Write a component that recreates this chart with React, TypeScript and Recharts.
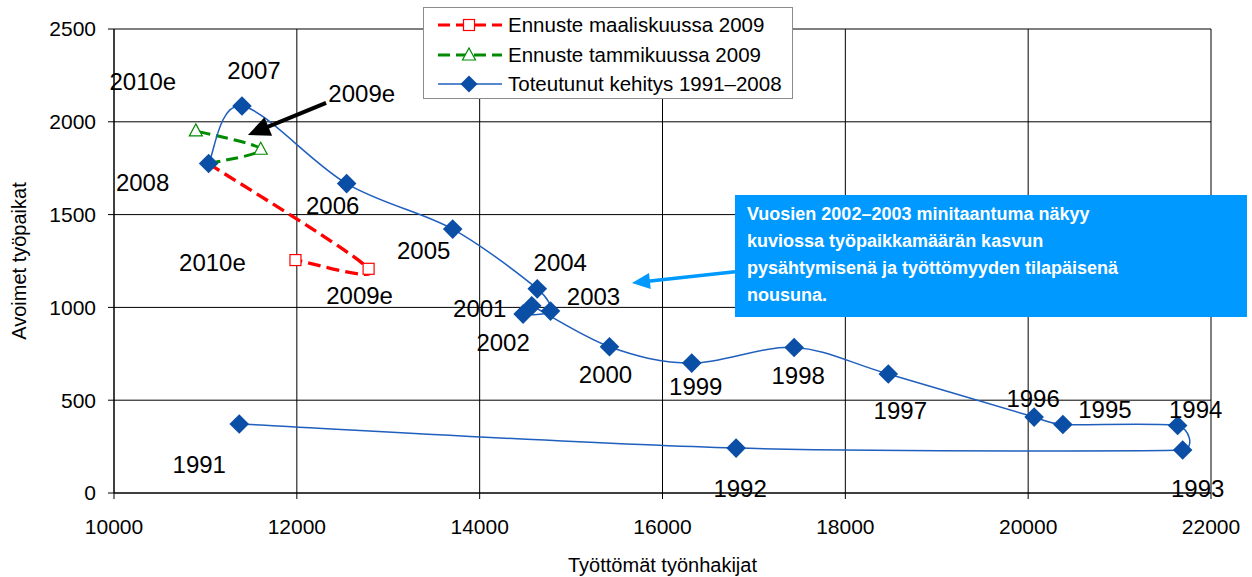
import React from "react";
import {
  LineChart,
  Line,
  XAxis,
  YAxis,
  CartesianGrid,
  ReferenceLine,
  LabelList,
} from "recharts";

const FONT = '"Liberation Sans", Arial, Helvetica, sans-serif';

// Toteutunut kehitys 1991–2008
const years = [
  "1991", "1992", "1993", "1994", "1995", "1996", "1997", "1998", "1999",
  "2000", "2001", "2002", "2003", "2004", "2005", "2006", "2007", "2008",
];
const unemployed = [
  11370, 16805, 21690, 21635, 20380, 20065, 18470, 17440, 16320,
  15420, 14570, 14475, 14775, 14630, 13705, 12545, 11400, 11035,
];
const vacancies = [
  372, 242, 232, 364, 369, 409, 641, 784, 700,
  788, 1009, 964, 980, 1100, 1422, 1667, 2085, 1775,
];

// Ennuste maaliskuussa 2009
const marchLabels = ["2008", "2009e", "2010e"];
const marchUnemployed = [11035, 12785, 11985];
const marchVacancies = [1775, 1208, 1255];

// Ennuste tammikuussa 2009
const janLabels = ["2008", "2009e", "2010e"];
const janUnemployed = [11035, 11605, 10895];
const janVacancies = [1775, 1852, 1951];

const xTicks = [10000, 12000, 14000, 16000, 18000, 20000, 22000];
const yTicks = [0, 500, 1000, 1500, 2000, 2500];

const seriesNames = [
  "Ennuste maaliskuussa 2009",
  "Ennuste tammikuussa 2009",
  "Toteutunut kehitys 1991–2008",
];
const xTitle = "Työttömät työnhakijat";
const yTitle = "Avoimet työpaikat";
const noteLines = [
  "Vuosien 2002–2003 minitaantuma näkyy",
  "kuviossa työpaikkamäärän kasvun",
  "pysähtymisenä ja työttömyyden tilapäisenä",
  "nousuna.",
];

// arrow annotations (data coordinates)
const blackArrow = [{ x: 12320, y: 2102 }, { x: 11465, y: 1929 }];
const blueArrow = [{ x: 16793, y: 1192 }, { x: 15666, y: 1132 }];

const actualData = years.map((label, i) => ({ label, x: unemployed[i], y: vacancies[i] }));
const marchData = marchLabels.map((label, i) => ({ label, x: marchUnemployed[i], y: marchVacancies[i] }));
const janData = janLabels.map((label, i) => ({ label, x: janUnemployed[i], y: janVacancies[i] }));

const BLUE_LINE = "#1f5fbd";
const BLUE_MARK = "#0a4ea6";
const RED = "#ff0000";
const GREEN = "#008a00";
const NOTE_BLUE = "#0099ff";

// label offsets from the point, px
const actualOffsets: Record<string, [number, number]> = {
  "1991": [-40, 41], "1992": [4, 40], "1993": [15, 39], "1994": [18, -16],
  "1995": [42, -15], "1996": [-1, -19], "1997": [12, 36], "1998": [4, 28],
  "1999": [4, 23], "2000": [-4, 28], "2001": [-52, 3], "2002": [-20, 28],
  "2003": [43, -15], "2004": [23, -26], "2005": [-29, 21], "2006": [-14, 22],
  "2007": [12, -36], "2008": [-66, 19],
};
const marchOffsets: Record<string, [number, number]> = {
  "2009e": [-9, 27], "2010e": [-83, 2],
};
const janOffsets: Record<string, [number, number]> = {
  "2009e": [101, -56], "2010e": [-53, -49],
};

// Excel-like smoothed line: Bezier through the points, control arms
// 1/6 of the neighbour chord but never longer than half a segment
function excelSmooth(context: any) {
  let pts: number[][] = [];
  const dist = (a: number[], b: number[]) => Math.hypot(b[0] - a[0], b[1] - a[1]);
  const arm = (prev: number[], cur: number[], next: number[]) => {
    const d02 = dist(prev, next);
    if (!d02) return [0, 0];
    const f = Math.min(1 / 6, dist(prev, cur) / (2 * d02) || 1 / 6, dist(cur, next) / (2 * d02) || 1 / 6);
    return [(next[0] - prev[0]) * f, (next[1] - prev[1]) * f];
  };
  return {
    areaStart() {},
    areaEnd() {},
    lineStart() {
      pts = [];
    },
    point(x: number, y: number) {
      pts.push([+x, +y]);
    },
    lineEnd() {
      const n = pts.length;
      if (!n) return;
      context.moveTo(pts[0][0], pts[0][1]);
      for (let i = 0; i < n - 1; i++) {
        const p0 = pts[Math.max(i - 1, 0)];
        const p1 = pts[i];
        const p2 = pts[i + 1];
        const p3 = pts[Math.min(i + 2, n - 1)];
        const a1 = arm(p0, p1, p2);
        const a2 = arm(p1, p2, p3);
        context.bezierCurveTo(p1[0] + a1[0], p1[1] + a1[1], p2[0] - a2[0], p2[1] - a2[1], p2[0], p2[1]);
      }
    },
  };
}

const Diamond = ({ cx, cy, size = 9.8 }: any) => (
  <polygon
    points={`${cx},${cy - size} ${cx + size},${cy} ${cx},${cy + size} ${cx - size},${cy}`}
    fill={BLUE_MARK}
  />
);

const OpenSquare = ({ cx, cy }: any) => (
  <rect x={cx - 5.5} y={cy - 5.5} width={11} height={11} fill="#fff" stroke={RED} strokeWidth={1.2} />
);

const OpenTriangle = ({ cx, cy }: any) => (
  <polygon
    points={`${cx},${cy - 7} ${cx + 6.5},${cy + 5} ${cx - 6.5},${cy + 5}`}
    fill="#fff"
    stroke={GREEN}
    strokeWidth={1.2}
  />
);

const arrowShape = (color: string, width: number, headLen: number, headWidth: number) => (props: any) => {
  const { x1, y1, x2, y2 } = props;
  const dx = x2 - x1;
  const dy = y2 - y1;
  const len = Math.hypot(dx, dy) || 1;
  const ux = dx / len;
  const uy = dy / len;
  const bx = x2 - ux * headLen;
  const by = y2 - uy * headLen;
  const px = (-uy * headWidth) / 2;
  const py = (ux * headWidth) / 2;
  return (
    <g>
      <line x1={x1} y1={y1} x2={bx + ux * 2} y2={by + uy * 2} stroke={color} strokeWidth={width} />
      <polygon points={`${x2},${y2} ${bx + px},${by + py} ${bx - px},${by - py}`} fill={color} />
    </g>
  );
};

const yearLabel = (offsets: Record<string, [number, number]>) => (props: any) => {
  const { x, y, value } = props;
  const off = offsets[value];
  if (!off) return null;
  return (
    <text
      x={x + off[0]}
      y={y + off[1]}
      textAnchor="middle"
      dominantBaseline="central"
      fontSize={24}
      fontFamily={FONT}
      fill="#000"
    >
      {value}
    </text>
  );
};

const tickStyle = { fontSize: 21, fill: "#000", fontFamily: FONT };

function LegendBox() {
  const samples = [
    { color: RED, dash: "12 6", width: 3, marker: <OpenSquare cx={32} cy={10} /> },
    { color: GREEN, dash: "12 6", width: 3, marker: <OpenTriangle cx={32} cy={10} /> },
    { color: BLUE_LINE, dash: undefined, width: 1.5, marker: <Diamond cx={32} cy={10} size={8.5} /> },
  ];
  return (
    <div
      style={{
        position: "absolute",
        left: 423,
        top: 7,
        width: 368,
        height: 90,
        background: "#fff",
        border: "1px solid #8c8c8c",
        fontFamily: FONT,
        fontSize: 20.5,
        color: "#000",
      }}
    >
      {seriesNames.map((name, i) => (
        <div
          key={name}
          style={{ position: "absolute", left: 13, top: 5 + i * 29.5, height: 24, display: "flex", alignItems: "center" }}
        >
          <svg width={66} height={20} style={{ display: "block" }}>
            <line
              x1={1}
              y1={10}
              x2={65}
              y2={10}
              stroke={samples[i].color}
              strokeWidth={samples[i].width}
              strokeDasharray={samples[i].dash}
            />
            {samples[i].marker}
          </svg>
          <span style={{ marginLeft: 5, whiteSpace: "nowrap" }}>{name}</span>
        </div>
      ))}
    </div>
  );
}

function NoteBox() {
  return (
    <div
      style={{
        position: "absolute",
        left: 735,
        top: 195,
        width: 512,
        height: 122,
        boxSizing: "border-box",
        background: NOTE_BLUE,
        color: "#fff",
        fontFamily: FONT,
        fontWeight: "bold",
        fontSize: 18,
        lineHeight: "27px",
        padding: "6px 0 0 12px",
      }}
    >
      {noteLines.map((l) => (
        <div key={l} style={{ whiteSpace: "nowrap" }}>
          {l}
        </div>
      ))}
    </div>
  );
}

export default function App() {
  return (
    <div style={{ position: "absolute", left: 0, top: 0, width: 1252, height: 577, background: "#fff" }}>
      <LineChart width={1252} height={577} margin={{ top: 29, right: 41, left: 0, bottom: 0 }}>
        <CartesianGrid stroke="#000" strokeWidth={1} />
        <XAxis
          type="number"
          dataKey="x"
          domain={[10000, 22000]}
          ticks={xTicks}
          allowDataOverflow
          height={84}
          tickSize={6}
          tickMargin={20}
          tick={tickStyle}
          axisLine={{ stroke: "#000" }}
          tickLine={{ stroke: "#000" }}
          label={(p: any) => {
            const vb = p.viewBox || { x: 114, y: 493, width: 1097, height: 84 };
            return (
              <text
                x={vb.x + vb.width / 2}
                y={vb.y + 72}
                textAnchor="middle"
                dominantBaseline="central"
                fontSize={20}
                fontFamily={FONT}
                fill="#000"
              >
                {xTitle}
              </text>
            );
          }}
        />
        <YAxis
          type="number"
          dataKey="y"
          domain={[0, 2500]}
          ticks={yTicks}
          allowDataOverflow
          width={114}
          tickSize={6}
          tickMargin={12}
          tick={tickStyle}
          axisLine={{ stroke: "#000" }}
          tickLine={{ stroke: "#000" }}
          label={(p: any) => {
            const vb = p.viewBox || { x: 0, y: 29, width: 114, height: 464 };
            const cy = vb.y + vb.height / 2;
            return (
              <text
                x={19}
                y={cy}
                transform={`rotate(-90, 19, ${cy})`}
                textAnchor="middle"
                dominantBaseline="central"
                fontSize={20}
                fontFamily={FONT}
                fill="#000"
              >
                {yTitle}
              </text>
            );
          }}
        />
        <Line
          data={marchData}
          dataKey="y"
          name={seriesNames[0]}
          type={excelSmooth as any}
          stroke={RED}
          strokeWidth={3.4}
          strokeDasharray="13 6"
          dot={(p: any) =>
            p.index === 0 ? <g key={`m${p.index}`} /> : <OpenSquare key={`m${p.index}`} cx={p.cx} cy={p.cy} />
          }
          isAnimationActive={false}
        >
          <LabelList dataKey="label" content={yearLabel(marchOffsets)} />
        </Line>
        <Line
          data={janData}
          dataKey="y"
          name={seriesNames[1]}
          type={excelSmooth as any}
          stroke={GREEN}
          strokeWidth={3}
          strokeDasharray="12 6"
          dot={(p: any) =>
            p.index === 0 ? <g key={`j${p.index}`} /> : <OpenTriangle key={`j${p.index}`} cx={p.cx} cy={p.cy} />
          }
          isAnimationActive={false}
        >
          <LabelList dataKey="label" content={yearLabel(janOffsets)} />
        </Line>
        <Line
          data={actualData}
          dataKey="y"
          name={seriesNames[2]}
          type={excelSmooth as any}
          stroke={BLUE_LINE}
          strokeWidth={1.5}
          dot={(p: any) => <Diamond key={`a${p.index}`} cx={p.cx} cy={p.cy} />}
          isAnimationActive={false}
        >
          <LabelList dataKey="label" content={yearLabel(actualOffsets)} />
        </Line>
        <ReferenceLine segment={blackArrow} shape={arrowShape("#000", 4, 22, 20)} />
        <ReferenceLine segment={blueArrow} shape={arrowShape(NOTE_BLUE, 3.5, 18, 16)} />
      </LineChart>
      <LegendBox />
      <NoteBox />
    </div>
  );
}
